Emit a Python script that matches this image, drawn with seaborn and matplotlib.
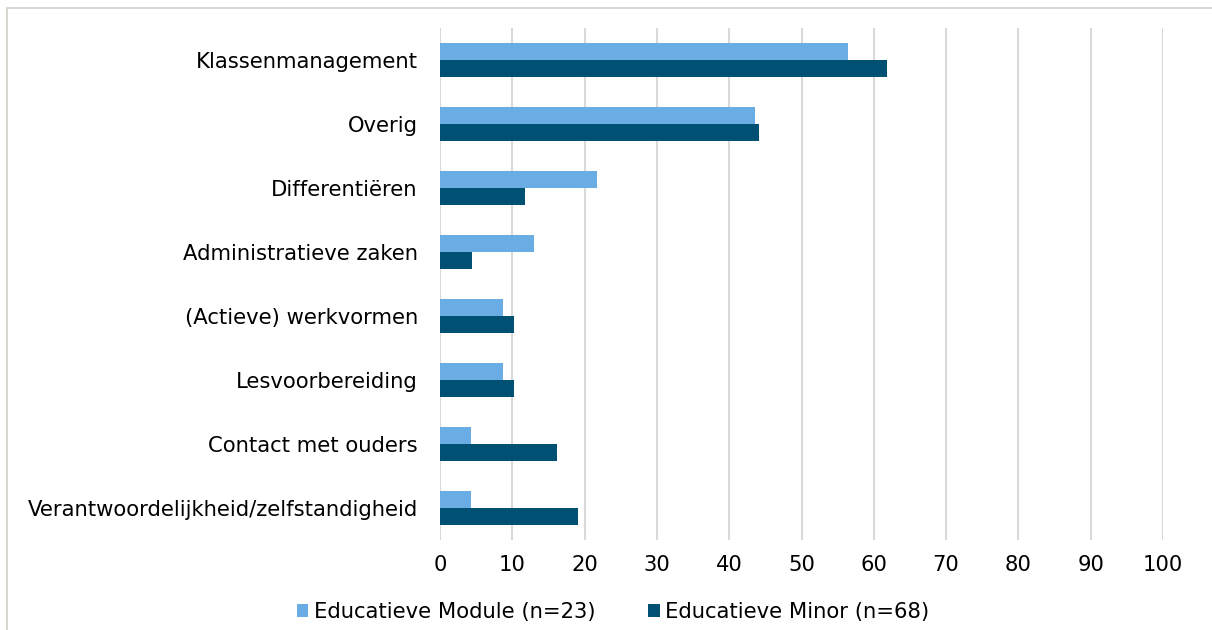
import matplotlib
matplotlib.use("Agg")
import matplotlib.pyplot as plt
from matplotlib.patches import Rectangle
import seaborn as sns
import pandas as pd

categories = [
    "Klassenmanagement",
    "Overig",
    "Differentiëren",
    "Administratieve zaken",
    "(Actieve) werkvormen",
    "Lesvoorbereiding",
    "Contact met ouders",
    "Verantwoordelijkheid/zelfstandigheid",
]
module_values = [56.5, 43.5, 21.7, 13.0, 8.7, 8.7, 4.3, 4.3]
minor_values = [61.8, 44.1, 11.8, 4.4, 10.3, 10.3, 16.2, 19.1]
series_names = ["Educatieve Module (n=23)", "Educatieve Minor (n=68)"]
x_ticks = [0, 10, 20, 30, 40, 50, 60, 70, 80, 90, 100]

colors = ["#6AADE4", "#005073"]
FONT = "DejaVu Sans"
FS = 15.2

df = pd.DataFrame({
    "categorie": categories * 2,
    "waarde": module_values + minor_values,
    "groep": [series_names[0]] * len(categories) + [series_names[1]] * len(categories),
})

sns.set_theme(style="white")
plt.rcParams["font.family"] = [FONT]
plt.rcParams["font.sans-serif"] = [FONT]

fig = plt.figure(figsize=(12.12, 6.30), dpi=100)
ax = fig.add_axes([440 / 1212, 1 - 540 / 630, (1163 - 440) / 1212, (540 - 28) / 630])

sns.barplot(data=df, y="categorie", x="waarde", hue="groep", order=categories,
            hue_order=series_names, palette=colors, orient="h", width=0.53,
            saturation=1, linewidth=0, ax=ax, legend=False)

ax.set_xlim(0, 100)
ax.set_ylim(len(categories) - 0.5, -0.5)
ax.set_xticks(x_ticks)
ax.set_xlabel("")
ax.set_ylabel("")
ax.grid(axis="x", color="#D9D9D9", linewidth=1.5)
ax.grid(axis="y", visible=False)
ax.set_axisbelow(True)
for s in ax.spines.values():
    s.set_visible(False)
ax.tick_params(axis="both", length=0, labelsize=FS, colors="#000000")
ax.tick_params(axis="x", pad=11)
ax.tick_params(axis="y", pad=16)
for lbl in ax.get_xticklabels() + ax.get_yticklabels():
    lbl.set_fontfamily(FONT)

# Legend below the plot
handles = [Rectangle((0, 0), 1, 1, facecolor=c, edgecolor="none") for c in colors]
fig.legend(handles, series_names, loc="center", bbox_to_anchor=(613 / 1212, 1 - 612 / 630),
           ncol=2, frameon=False, prop={"family": FONT, "size": FS}, labelcolor="#000000",
           handlelength=0.55, handleheight=0.55, handletextpad=0.25, columnspacing=2.5)

# Chart frame
fig.patches.append(Rectangle((7 / 1212, -0.05), 1.1, 1 - 8 / 630 + 0.05,
                             transform=fig.transFigure, fill=False,
                             edgecolor="#D0CEC8", linewidth=1.2))

fig.savefig("out.png", dpi=100)
